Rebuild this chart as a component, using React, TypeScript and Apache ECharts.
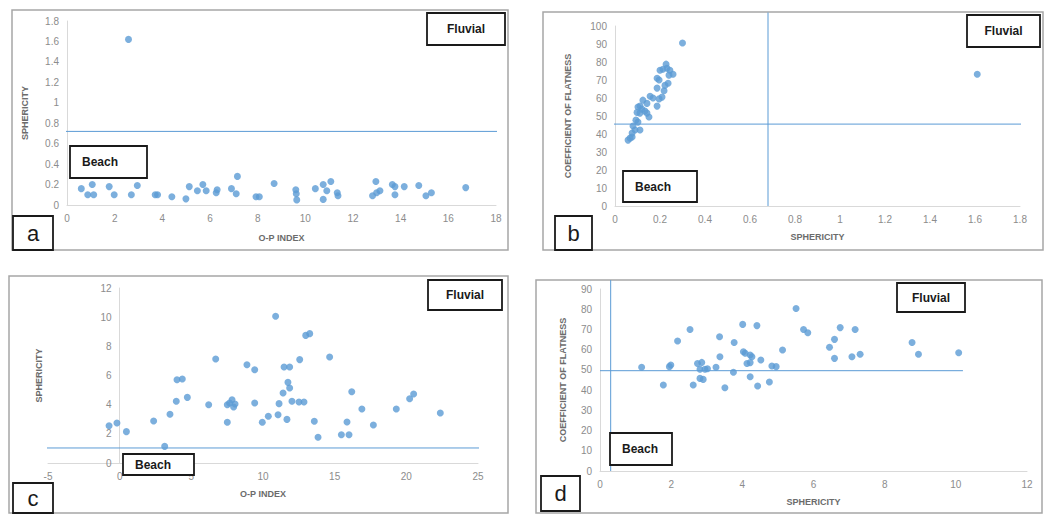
import React, { useEffect, useRef } from "react";
import * as echarts from "echarts";

// Panel a: O-P index vs sphericity
const panelAPoints: number[][] = [
  [2.58, 1.62], [0.6, 0.16], [0.87, 0.1], [1.12, 0.1], [1.06, 0.2], [1.77, 0.18],
  [1.98, 0.1], [2.7, 0.1], [2.95, 0.19], [3.7, 0.1], [3.8, 0.1], [4.4, 0.08],
  [4.99, 0.06], [5.13, 0.18], [5.47, 0.14], [5.7, 0.2], [5.84, 0.14], [6.26, 0.12],
  [6.3, 0.15], [6.9, 0.16], [7.15, 0.28], [7.1, 0.11], [7.93, 0.08], [8.07, 0.08],
  [8.69, 0.21], [9.6, 0.15], [9.62, 0.11], [9.64, 0.05], [10.42, 0.16], [10.75, 0.2],
  [10.75, 0.055], [10.9, 0.14], [11.07, 0.23], [11.34, 0.12], [11.37, 0.09],
  [12.82, 0.09], [12.99, 0.12], [13.13, 0.14], [12.96, 0.23], [13.65, 0.2],
  [13.76, 0.18], [13.76, 0.1], [14.15, 0.18], [14.76, 0.19], [15.06, 0.09],
  [15.29, 0.12], [16.73, 0.17],
];
const panelALimit = 0.72;

// Panel b: sphericity vs coefficient of flatness
const panelBPoints: number[][] = [
  [0.3, 90.6], [0.227, 78.8], [0.2, 75.4], [0.213, 76], [0.231, 76.5], [0.244, 75.4],
  [0.258, 73.2], [0.24, 72.7], [0.187, 71], [0.196, 70], [0.236, 68.2], [0.222, 67],
  [0.187, 65.5], [0.218, 64], [0.156, 61], [0.169, 60], [0.209, 60.5], [0.196, 59.5],
  [0.124, 58.8], [0.142, 57], [0.187, 55.5], [0.111, 55.5], [0.102, 55], [0.12, 53.8],
  [0.133, 52.7], [0.142, 51.6], [0.151, 49.4], [0.098, 52], [0.111, 51.6],
  [0.093, 47.7], [0.102, 46.6], [0.08, 44.4], [0.089, 42.2], [0.111, 42.2],
  [0.076, 40.5], [0.067, 37.7], [0.076, 38.3], [0.058, 36.6], [1.61, 73.2],
];
const panelBLimitX = 0.68;
const panelBLimitY = 45.5;

// Panel c: O-P index vs sphericity
const panelCPoints: number[][] = [
  [-0.74, 2.56], [-0.19, 2.74], [0.47, 2.15], [2.37, 2.88], [3.14, 1.14], [3.51, 3.34],
  [3.95, 4.23], [4.0, 5.71], [4.37, 5.76], [4.72, 4.5], [6.21, 4.0], [6.7, 7.13],
  [7.51, 2.79], [7.51, 4.0], [7.67, 4.11], [7.84, 4.34], [7.95, 3.84], [8.05, 4.05],
  [8.88, 6.74], [9.42, 6.4], [9.42, 4.11], [9.95, 2.79], [10.37, 3.2], [10.88, 10.06],
  [11.05, 3.31], [11.12, 4.07], [11.4, 4.8], [11.47, 6.58], [11.86, 6.58], [11.67, 2.99],
  [11.74, 5.53], [11.86, 5.14], [12.02, 4.23], [12.56, 7.09], [12.51, 4.18], [12.86, 4.18],
  [12.98, 8.75], [13.26, 8.87], [13.58, 2.86], [13.84, 1.76], [14.65, 7.27], [15.47, 1.94],
  [16.0, 1.94], [15.86, 2.81], [16.19, 4.89], [16.9, 3.7], [17.7, 2.6], [19.3, 3.7],
  [20.23, 4.41], [20.51, 4.73], [22.37, 3.43],
];
const panelCLimit = 1.03;

// Panel d: sphericity vs coefficient of flatness
const panelDPoints: number[][] = [
  [1.17, 51.3], [1.78, 42.5], [1.95, 51.6], [1.99, 52.4], [2.18, 64.3], [2.53, 70],
  [2.62, 42.5], [2.74, 53.2], [2.86, 53.7], [2.81, 50.3], [2.95, 50.3], [3.02, 50.6],
  [2.81, 45.8], [2.9, 45.3], [3.26, 51.3], [3.36, 66.4], [3.37, 56.5], [3.51, 41.2],
  [3.75, 48.8], [3.77, 63.5], [4.01, 72.5], [4.03, 59], [4.08, 58.2], [4.22, 57.4],
  [4.27, 56.5], [4.13, 53.2], [4.22, 53.6], [4.22, 46.6], [4.41, 71.9], [4.43, 42],
  [4.52, 54.9], [4.76, 44], [4.83, 51.9], [4.95, 51.6], [5.13, 59.8], [5.51, 80.4],
  [5.72, 70], [5.84, 68.4], [6.45, 61.2], [6.59, 65.1], [6.59, 55.7], [6.75, 70.9],
  [7.08, 56.5], [7.17, 70], [7.31, 57.7], [8.77, 63.5], [8.95, 57.7], [10.08, 58.5],
];
const panelDLimitX = 0.3;
const panelDLimitY = 49.6;

const xTitles = ["O-P INDEX", "SPHERICITY", "O-P INDEX", "SPHERICITY"];
const yTitles = ["SPHERICITY", "COEFFICIENT OF FLATNESS", "SPHERICITY", "COEFFICIENT OF FLATNESS"];
const panelLetters = ["a", "b", "c", "d"];

const BLUE = "#5b9bd5";
const FONT = "'Liberation Sans', Arial, sans-serif";

export default function App() {
  const ref = useRef<HTMLDivElement>(null);
  useEffect(() => {
    if (!ref.current) return;
    const chart = echarts.init(ref.current, null, { renderer: "svg" });

    const grids = [
      { left: 67, top: 21, width: 429, height: 184 },
      { left: 615, top: 26, width: 405, height: 180 },
      { left: 48, top: 288, width: 430, height: 175 },
      { left: 600, top: 289, width: 427, height: 182 },
    ].map((g) => ({ ...g, containLabel: false, outerBoundsMode: "none" }));
    const xRanges = [
      { min: 0, max: 18, interval: 2 },
      { min: 0, max: 1.8, interval: 0.2 },
      { min: -5, max: 25, interval: 5 },
      { min: 0, max: 12, interval: 2 },
    ];
    const yRanges = [
      { min: 0, max: 1.8, interval: 0.2 },
      { min: 0, max: 100, interval: 10 },
      { min: 0, max: 12, interval: 2 },
      { min: 0, max: 90, interval: 10 },
    ];
    const yNameGaps = [38, 43, 76, 33];
    // panel c: y axis sits at x = 0, i.e. 5 units (of 30) in from the grid's left edge
    const yOffsets = [0, 0, -(430 * 5) / 30, 0];

    const axisCommon = {
      type: "value" as const,
      axisTick: { show: false },
      splitLine: { show: false },
      axisLabel: { color: "#8c8c8c", fontSize: 10, fontFamily: FONT },
      nameLocation: "middle" as const,
      nameTextStyle: { color: "#6b6b6b", fontSize: 9, fontWeight: "bold" as const, fontFamily: FONT },
    };

    const xAxis = xRanges.map((r, i) => ({
      ...axisCommon,
      axisLine: { onZero: false, lineStyle: { color: "#d9d9d9", width: 1 } },
      gridIndex: i,
      ...r,
      name: xTitles[i],
      nameGap: i === 0 ? 28 : 26,
    }));
    const yAxis = yRanges.map((r, i) => ({
      ...axisCommon,
      axisLine: { onZero: false, lineStyle: { color: "#d9d9d9", width: 1 } },
      gridIndex: i,
      ...r,
      offset: yOffsets[i],
      name: yTitles[i],
      nameGap: yNameGaps[i],
    }));

    const pts = [panelAPoints, panelBPoints, panelCPoints, panelDPoints];
    const scatter = pts.map((d, i) => ({
      type: "scatter",
      xAxisIndex: i,
      yAxisIndex: i,
      data: d,
      symbolSize: 7,
      itemStyle: { color: BLUE },
    }));

    const refLines: number[][][] = [
      [[-0.2, panelALimit], [18.5, panelALimit]],
      [[-0.04, panelBLimitY], [1.9, panelBLimitY]],
      [[panelBLimitX, 0], [panelBLimitX, 107.5]],
      [[-7.7, panelCLimit], [27.1, panelCLimit]],
      [[0, panelDLimitY], [10.2, panelDLimitY]],
      [[panelDLimitX, 0], [panelDLimitX, 94.4]],
    ];
    const refIdx = [0, 1, 1, 2, 3, 3];
    const lines = refLines.map((d, k) => ({
      type: "line",
      xAxisIndex: refIdx[k],
      yAxisIndex: refIdx[k],
      data: d,
      clip: false,
      symbol: "none",
      silent: true,
      lineStyle: { color: BLUE, width: 1 },
      z: 1,
    }));

    const frames = [
      { x: 12, y: 10, w: 496, h: 240 },
      { x: 543, y: 12, w: 500, h: 238 },
      { x: 9, y: 276, w: 499, h: 237 },
      { x: 536, y: 280, w: 506, h: 233 },
    ];
    const letterBoxes = [
      { x: 13, y: 216, w: 40, h: 34 },
      { x: 555, y: 216, w: 37, h: 34 },
      { x: 13, y: 483, w: 40, h: 30 },
      { x: 541, y: 476, w: 39, h: 35 },
    ];
    const fluvialBoxes = [
      { x: 427, y: 13, w: 78, h: 32 },
      { x: 967, y: 15, w: 73, h: 32 },
      { x: 428, y: 280, w: 74, h: 30 },
      { x: 897, y: 283, w: 68, h: 29 },
    ];
    const beachBoxes = [
      { x: 70, y: 146, w: 77, h: 32 },
      { x: 623, y: 171, w: 74, h: 31 },
      { x: 123, y: 454, w: 71, h: 21 },
      { x: 610, y: 433, w: 62, h: 32 },
    ];

    const graphic: any[] = [];
    frames.forEach((f) =>
      graphic.push({
        type: "rect",
        shape: { x: f.x, y: f.y, width: f.w, height: f.h },
        style: { fill: "none", stroke: "#a6a6a6", lineWidth: 1.5 },
        z: 0,
      })
    );
    const box = (b: any, text: string, font: string, align: string, pad: number) => {
      graphic.push({
        type: "rect",
        shape: { x: b.x, y: b.y, width: b.w, height: b.h },
        style: { fill: "#ffffff", stroke: "#1a1a1a", lineWidth: 1.8 },
        z: 10,
      });
      graphic.push({
        type: "text",
        x: align === "center" ? b.x + b.w / 2 : b.x + pad,
        y: b.y + b.h / 2,
        style: {
          text,
          font,
          fill: "#1a1a1a",
          textAlign: align,
          textVerticalAlign: "middle",
          align,
          verticalAlign: "middle",
        },
        z: 11,
      });
    };
    letterBoxes.forEach((b, i) => box(b, panelLetters[i], `22px ${FONT}`, "center", 0));
    fluvialBoxes.forEach((b) => box(b, "Fluvial", `bold 12px ${FONT}`, "center", 0));
    beachBoxes.forEach((b) => box(b, "Beach", `bold 12px ${FONT}`, "left", 12));

    chart.setOption({
      animation: false,
      backgroundColor: "#ffffff",
      grid: grids,
      xAxis,
      yAxis,
      series: [...lines, ...scatter],
      graphic,
    });
    return () => chart.dispose();
  }, []);
  return (
    <div
      ref={ref}
      style={{ position: "fixed", left: 0, top: 0, width: 1052, height: 515, background: "#fff" }}
    />
  );
}
